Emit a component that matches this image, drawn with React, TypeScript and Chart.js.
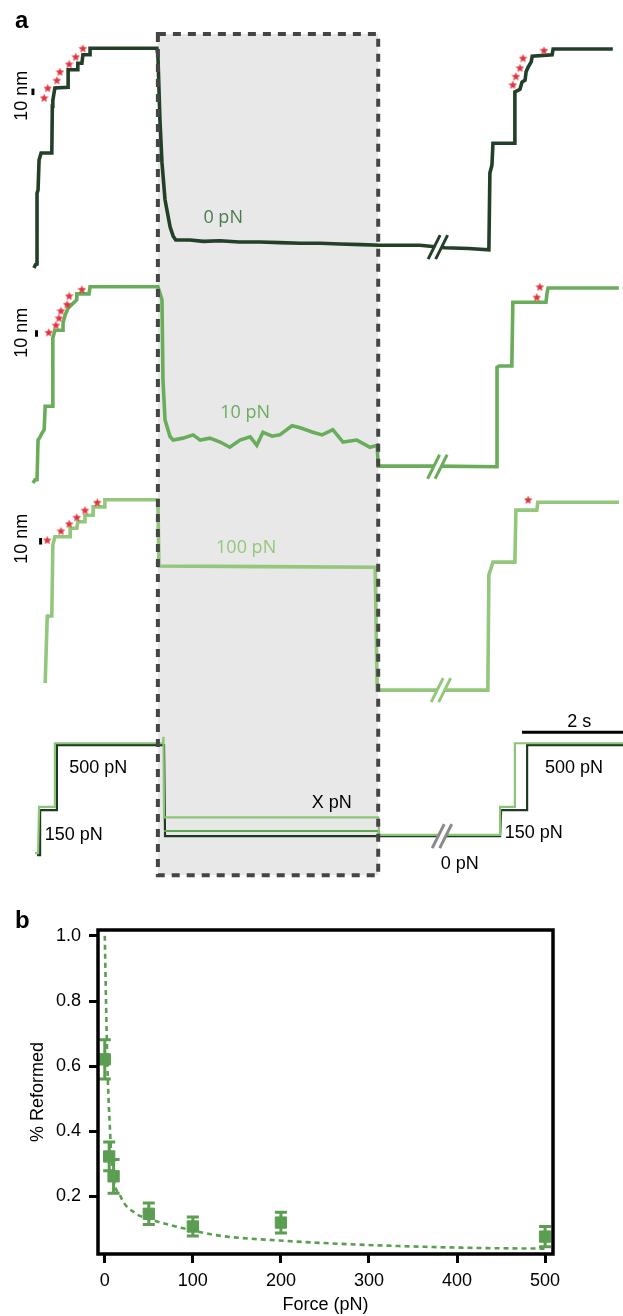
import React, { useEffect, useRef } from 'react';
import { Chart, registerables } from 'chart.js';

Chart.register(...registerables);

// ---------------- Panel a data: time (s), extension (nm) ----------------
const TRACE_0PN: number[][] = [
  [-0.02, 0], [0.01, 5], [0.04, 6], [0.04, 115], [0.06, 120], [0.08, 166], [0.12, 177], [0.33, 177],
  [0.34, 249], [0.35, 258], [0.39, 277], [0.65, 278], [0.65, 305], [0.84, 305], [0.84, 315], [0.92, 315],
  [0.94, 328], [1.08, 328], [1.08, 338], [2.39, 338], [2.41, 328], [2.45, 228], [2.49, 162], [2.55, 105],
  [2.65, 63], [2.71, 49], [2.76, 43], [3.04, 43], [3.3, 41], [3.63, 42], [4.0, 40], [4.41, 40], [4.8, 39],
  [5.2, 38], [5.6, 38], [5.98, 37], [6.4, 36], [6.76, 35], [7.2, 35], [7.55, 35], [8.04, 31], [8.5, 30],
  [8.9, 28], [8.92, 146], [8.96, 158], [8.98, 192], [9.41, 192], [9.41, 271], [9.51, 275], [9.55, 286],
  [9.61, 289], [9.63, 302], [9.67, 309], [9.73, 317], [9.75, 326], [10.14, 328], [10.16, 337], [11.33, 337],
];
const TRACE_10PN: number[][] = [
  [-0.04, 0], [0, 5], [0.04, 5], [0.06, 66], [0.1, 71], [0.14, 77], [0.18, 82], [0.2, 118], [0.35, 118],
  [0.35, 223], [0.39, 235], [0.55, 235], [0.55, 246], [0.59, 258], [0.65, 269], [0.82, 282], [0.82, 291],
  [1.06, 291], [1.08, 302], [2.41, 302], [2.49, 282], [2.51, 158], [2.55, 97], [2.65, 71], [2.71, 66],
  [2.9, 69], [3.1, 74], [3.24, 66], [3.43, 69], [3.63, 63], [3.82, 55], [4.02, 66], [4.22, 71], [4.35, 58],
  [4.47, 78], [4.65, 72], [4.8, 74], [5.04, 88], [5.2, 85], [5.45, 78], [5.63, 74], [5.84, 82], [6.04, 63],
  [6.31, 66], [6.57, 55], [6.71, 58], [6.73, 26], [7.88, 26], [9.06, 25], [9.06, 178], [9.1, 180],
  [9.35, 180], [9.37, 278], [10.02, 278], [10.04, 292], [10.06, 300], [11.45, 300],
];
const TRACE_100PN: number[][] = [
  [0.2, 0], [0.22, 51], [0.24, 102], [0.25, 103], [0.33, 103], [0.35, 212], [0.39, 225], [0.69, 225],
  [0.69, 238], [0.82, 238], [0.84, 248], [0.98, 248], [0.98, 258], [1.14, 258], [1.14, 271], [1.37, 271],
  [1.37, 282], [2.41, 282], [2.43, 180], [4.5, 179], [6.67, 178], [6.71, -11], [8.88, -11], [8.9, 166],
  [8.98, 186], [9.41, 186], [9.43, 266], [9.84, 266], [9.86, 278], [11.45, 278],
];
const FORCE_LIGHT: number[][] = [
  [0, 3], [0.06, 3], [0.08, 74], [0.39, 74], [0.39, 172], [2.51, 172], [2.52, 182], [2.53, 58], [6.73, 58],
  [6.75, 31], [9.12, 31], [9.12, 74], [9.41, 74], [9.41, 172], [11.53, 172],
];
const FORCE_MID: number[][] = [[2.53, 37], [6.73, 37], [6.75, 31]];
const FORCE_DARK: number[][] = [
  [0.04, 0], [0.1, 0], [0.1, 69], [0.43, 69], [0.43, 169], [2.53, 169], [2.55, 29], [9.12, 29], [9.14, 69],
  [9.65, 69], [9.65, 169], [11.53, 169],
];
const STARS_0PN: number[][] = [
  [0.18, 262], [0.25, 277], [0.43, 289], [0.49, 302], [0.67, 314], [0.8, 325], [0.94, 338],
  [9.37, 282], [9.43, 295], [9.51, 308], [9.57, 323], [9.98, 335],
];
const STARS_10PN: number[][] = [
  [0.27, 232], [0.41, 243], [0.47, 254], [0.51, 265], [0.63, 275], [0.67, 288], [0.92, 298], [9.84, 286], [9.9, 302],
];
const STARS_100PN: number[][] = [[0.24, 220], [0.51, 234], [0.67, 245], [0.82, 255], [0.98, 266], [1.22, 278], [9.67, 282]];
const BAR_10NM_ROW1: number[][] = [[-0.04, 266], [-0.04, 276]];
const BAR_10NM_ROW2: number[][] = [[0.03, 225], [0.03, 235]];
const BAR_10NM_ROW3: number[][] = [[0.11, 213], [0.11, 223]];
const BAR_2S: number[][] = [[9.55, 189], [11.55, 189]];

const ROW_IDS = ['r1', 'r2', 'r3', 'r4'];
const ROW_MIN = [-18.5, -10.8, -26.2, -61.5];
const ROW_MAX = [412.3, 312.3, 296.9, 238.5];
const ROW_WEIGHT = [280, 210, 210, 195];
const TIME_MIN = -0.686;
const TIME_MAX = 11.53;

// ---------------- Panel b data ----------------
const FORCE_PN = [0, 5, 10, 50, 100, 200, 500];
const REFORMED = [0.621, 0.323, 0.262, 0.147, 0.108, 0.12, 0.077];
const REFORMED_ERR = [0.06, 0.044, 0.052, 0.033, 0.029, 0.032, 0.031];
const FIT_FORCE = [0, 1.4, 3, 6, 8, 18, 34, 52, 93, 130, 198, 266, 334, 425, 500];
const FIT_REFORMED = [1.0, 0.8, 0.6, 0.4, 0.3, 0.2, 0.15, 0.13, 0.1, 0.08, 0.065, 0.055, 0.048, 0.042, 0.04];
const X_TICKS = [0, 100, 200, 300, 400, 500];
const Y_TICKS = [0.2, 0.4, 0.6, 0.8, 1.0];

const SANS = '"Liberation Sans", Arial, Helvetica, sans-serif';
const DARK = '#233f28';
const MID = '#69ad5b';
const LIGHT = '#93c77c';
const RED = '#e2333e';
const GREEN_B = '#5b9e51';

const BOX = { t0: 2.41, t1: 6.73, topAxis: 'r1', topV: 360, botAxis: 'r4', botV: -31 };
const BREAKS = [
  { t: 7.9, v: 32, axis: 'r1', color: DARK },
  { t: 7.89, v: 25, axis: 'r2', color: MID },
  { t: 7.96, v: -11, axis: 'r3', color: LIGHT },
  { t: 7.98, v: 29, axis: 'r4', color: '#8a8a8a' },
];
const A_LABELS = [
  { text: '0 pN', t: 3.69, v: 77, axis: 'r1', color: '#4a7b50', font: '18px "Open Sans", sans-serif' },
  { text: '10 pN', t: 4.12, v: 108, axis: 'r2', color: MID, font: '18px "Open Sans", sans-serif' },
  { text: '100 pN', t: 4.14, v: 208, axis: 'r3', color: LIGHT, font: '18px "Open Sans", sans-serif' },
  { text: '500 pN', t: 1.24, v: 134, axis: 'r4', color: '#000', font: `18px ${SANS}` },
  { text: '150 pN', t: 0.76, v: 30, axis: 'r4', color: '#000', font: `18px ${SANS}` },
  { text: 'X pN', t: 5.82, v: 80, axis: 'r4', color: '#000', font: `18px ${SANS}` },
  { text: '0 pN', t: 8.33, v: -14, axis: 'r4', color: '#000', font: `18px ${SANS}` },
  { text: '150 pN', t: 9.78, v: 34, axis: 'r4', color: '#000', font: `18px ${SANS}` },
  { text: '500 pN', t: 10.57, v: 134, axis: 'r4', color: '#000', font: `18px ${SANS}` },
  { text: '2 s', t: 10.67, v: 205, axis: 'r4', color: '#000', font: `18px ${SANS}` },
  { text: '10 nm', t: -0.26, v: 265, axis: 'r1', color: '#000', font: `18px ${SANS}`, rot: true },
  { text: '10 nm', t: -0.26, v: 231, axis: 'r2', color: '#000', font: `18px ${SANS}`, rot: true },
  { text: '10 nm', t: -0.26, v: 222, axis: 'r3', color: '#000', font: `18px ${SANS}`, rot: true },
];

const xy = (arr: number[][]) => arr.map(([x, y]) => ({ x, y }));

function makeStar(color: string, size: number) {
  const c = document.createElement('canvas');
  c.width = size;
  c.height = size;
  const g = c.getContext('2d')!;
  const cx = size / 2, cy = size / 2 + 0.5, R = size / 2, r = R * 0.45;
  g.beginPath();
  for (let i = 0; i < 10; i++) {
    const rad = i % 2 === 0 ? R : r;
    const a = -Math.PI / 2 + (i * Math.PI) / 5;
    g.lineTo(cx + rad * Math.cos(a), cy + rad * Math.sin(a));
  }
  g.closePath();
  g.fillStyle = color;
  g.fill();
  return c;
}

const panelAPlugin = {
  id: 'panelA',
  beforeDatasetsDraw(chart: any) {
    const { ctx, scales } = chart;
    const l = scales.x.getPixelForValue(BOX.t0);
    const r = scales.x.getPixelForValue(BOX.t1);
    const t = scales[BOX.topAxis].getPixelForValue(BOX.topV);
    const b = scales[BOX.botAxis].getPixelForValue(BOX.botV);
    ctx.save();
    ctx.fillStyle = '#e8e8e8';
    ctx.fillRect(l, t, r - l, b - t);
    ctx.restore();
  },
  afterDatasetsDraw(chart: any) {
    const { ctx, scales } = chart;
    const l = scales.x.getPixelForValue(BOX.t0);
    const r = scales.x.getPixelForValue(BOX.t1);
    const t = scales[BOX.topAxis].getPixelForValue(BOX.topV);
    const b = scales[BOX.botAxis].getPixelForValue(BOX.botV);
    ctx.save();
    ctx.setLineDash([8, 7]);
    ctx.lineWidth = 4;
    ctx.strokeStyle = '#454545';
    ctx.strokeRect(l, t, r - l, b - t);
    ctx.setLineDash([]);
    // axis breaks
    for (const br of BREAKS) {
      const cx = scales.x.getPixelForValue(br.t);
      const cy = scales[br.axis].getPixelForValue(br.v);
      const h = 12, w = 6, sep = 7.5;
      ctx.fillStyle = '#ffffff';
      ctx.beginPath();
      ctx.moveTo(cx - sep / 2 - w, cy + h);
      ctx.lineTo(cx + sep / 2 - w, cy + h);
      ctx.lineTo(cx + sep / 2 + w, cy - h);
      ctx.lineTo(cx - sep / 2 + w, cy - h);
      ctx.closePath();
      ctx.fill();
      ctx.strokeStyle = br.color;
      ctx.lineWidth = 3;
      for (const s of [-sep / 2, sep / 2]) {
        ctx.beginPath();
        ctx.moveTo(cx + s - w, cy + h);
        ctx.lineTo(cx + s + w, cy - h);
        ctx.stroke();
      }
    }
    // labels
    for (const lb of A_LABELS) {
      const px = scales.x.getPixelForValue(lb.t);
      const py = scales[lb.axis].getPixelForValue(lb.v);
      ctx.save();
      ctx.font = lb.font;
      ctx.fillStyle = lb.color;
      ctx.textAlign = 'center';
      ctx.textBaseline = 'middle';
      ctx.translate(px, py);
      if ((lb as any).rot) ctx.rotate(-Math.PI / 2);
      ctx.fillText(lb.text, 0, 0);
      ctx.restore();
    }
    ctx.restore();
  },
};

const panelBPlugin = {
  id: 'panelB',
  afterDatasetsDraw(chart: any) {
    const { ctx, scales, chartArea } = chart;
    ctx.save();
    ctx.strokeStyle = GREEN_B;
    ctx.lineWidth = 3;
    FORCE_PN.forEach((f, i) => {
      const x = scales.x.getPixelForValue(f);
      const y1 = scales.y.getPixelForValue(REFORMED[i] + REFORMED_ERR[i]);
      const y2 = scales.y.getPixelForValue(REFORMED[i] - REFORMED_ERR[i]);
      ctx.beginPath();
      ctx.moveTo(x, y1);
      ctx.lineTo(x, y2);
      ctx.moveTo(x - 6, y1);
      ctx.lineTo(x + 6, y1);
      ctx.moveTo(x - 6, y2);
      ctx.lineTo(x + 6, y2);
      ctx.stroke();
    });
    ctx.strokeStyle = '#000';
    ctx.lineWidth = 3.5;
    ctx.strokeRect(chartArea.left, chartArea.top, chartArea.right - chartArea.left, chartArea.bottom - chartArea.top);
    ctx.restore();
  },
};

export default function App() {
  const aRef = useRef<HTMLCanvasElement>(null);
  const bRef = useRef<HTMLCanvasElement>(null);

  useEffect(() => {
    const star = makeStar(RED, 9);
    const traceDs = (data: number[][], axis: string, color: string, width: number, order: number) => ({
      data: xy(data),
      yAxisID: axis,
      borderColor: color,
      borderWidth: width,
      pointRadius: 0,
      fill: false,
      tension: 0,
      order,
    });
    const starDs = (data: number[][], axis: string) => ({
      data: xy(data),
      yAxisID: axis,
      showLine: false,
      pointStyle: star,
      pointRadius: 5,
      order: 0,
    });
    const yScales: any = {};
    ROW_IDS.forEach((id, i) => {
      yScales[id] = {
        type: 'linear',
        position: 'right',
        stack: 'rows',
        stackWeight: ROW_WEIGHT[i],
        min: ROW_MIN[i],
        max: ROW_MAX[i],
        display: false,
      };
    });
    const chartA = new Chart(aRef.current!, {
      type: 'line',
      data: {
        datasets: [
          traceDs(TRACE_0PN, 'r1', DARK, 3.6, 5),
          traceDs(TRACE_10PN, 'r2', MID, 3.6, 5),
          traceDs(TRACE_100PN, 'r3', LIGHT, 3.6, 5),
          traceDs(FORCE_DARK, 'r4', '#1f3a23', 2.2, 7),
          traceDs(FORCE_MID, 'r4', '#5ea653', 2.2, 6),
          traceDs(FORCE_LIGHT, 'r4', '#8dc578', 2.2, 5),
          traceDs(BAR_10NM_ROW1, 'r1', '#000', 3, 4),
          traceDs(BAR_10NM_ROW2, 'r2', '#000', 3, 4),
          traceDs(BAR_10NM_ROW3, 'r3', '#000', 3, 4),
          traceDs(BAR_2S, 'r4', '#000', 3, 4),
          starDs(STARS_0PN, 'r1'),
          starDs(STARS_10PN, 'r2'),
          starDs(STARS_100PN, 'r3'),
        ] as any,
      },
      options: {
        animation: false,
        responsive: false,
        layout: { padding: 0, autoPadding: false } as any,
        plugins: { legend: { display: false }, tooltip: { enabled: false } },
        scales: {
          x: { type: 'linear', min: TIME_MIN, max: TIME_MAX, display: false },
          ...yScales,
        },
      },
      plugins: [panelAPlugin],
    });

    const chartB = new Chart(bRef.current!, {
      type: 'scatter',
      data: {
        datasets: [
          {
            type: 'line',
            data: FIT_FORCE.map((x, i) => ({ x, y: FIT_REFORMED[i] })),
            borderColor: GREEN_B,
            borderWidth: 2.6,
            borderDash: [5, 4],
            pointRadius: 0,
            fill: false,
            cubicInterpolationMode: 'monotone',
            order: 2,
          },
          {
            type: 'scatter',
            data: FORCE_PN.map((x, i) => ({ x, y: REFORMED[i] })),
            pointStyle: 'rect',
            pointRadius: 8,
            backgroundColor: GREEN_B,
            borderColor: GREEN_B,
            borderWidth: 1,
            order: 1,
          },
        ] as any,
      },
      options: {
        animation: false,
        responsive: false,
        layout: { padding: { left: 0, right: 70, top: 35, bottom: 0 }, autoPadding: false } as any,
        plugins: { legend: { display: false }, tooltip: { enabled: false } },
        scales: {
          x: {
            type: 'linear',
            min: -7.7,
            max: 509,
            afterBuildTicks: (s: any) => { s.ticks = X_TICKS.map((v) => ({ value: v })); },
            afterFit: (s: any) => { s.height = 62; },
            ticks: { font: { family: SANS, size: 18 }, color: '#000', padding: 7, maxRotation: 0, autoSkip: false },
            grid: { display: true, drawOnChartArea: false, drawTicks: true, tickLength: 9, lineWidth: 3, color: '#000' },
            border: { display: false },
            title: { display: true, text: 'Force (pN)', font: { family: SANS, size: 18 }, color: '#000', padding: { top: 0, bottom: 0 } },
          },
          y: {
            type: 'linear',
            min: 0.0236,
            max: 1.018,
            afterBuildTicks: (s: any) => { s.ticks = Y_TICKS.map((v) => ({ value: v })); },
            afterFit: (s: any) => { s.width = 98; },
            ticks: { font: { family: SANS, size: 18 }, color: '#000', padding: 8, autoSkip: false, callback: (v: any) => Number(v).toFixed(1) },
            grid: { display: true, drawOnChartArea: false, drawTicks: true, tickLength: 9, lineWidth: 3, color: '#000' },
            border: { display: false },
            title: { display: true, text: '% Reformed', font: { family: SANS, size: 18 }, color: '#000', padding: { top: 27, bottom: 0 } },
          },
        } as any,
      },
      plugins: [panelBPlugin],
    });

    return () => {
      chartA.destroy();
      chartB.destroy();
    };
  }, []);

  const labelStyle: React.CSSProperties = {
    position: 'absolute',
    font: `bold 24px ${SANS}`,
    lineHeight: '24px',
    color: '#000',
  };

  return (
    <div style={{ position: 'absolute', left: 0, top: 0, width: 623, height: 1316, background: '#fff', overflow: 'hidden' }}>
      <canvas ref={aRef} width={623} height={895} style={{ position: 'absolute', left: 0, top: 0, width: 623, height: 895 }} />
      <canvas ref={bRef} width={623} height={421} style={{ position: 'absolute', left: 0, top: 895, width: 623, height: 421 }} />
      <div style={{ ...labelStyle, left: 15, top: 8 }}>a</div>
      <div style={{ ...labelStyle, left: 15, top: 908 }}>b</div>
    </div>
  );
}
